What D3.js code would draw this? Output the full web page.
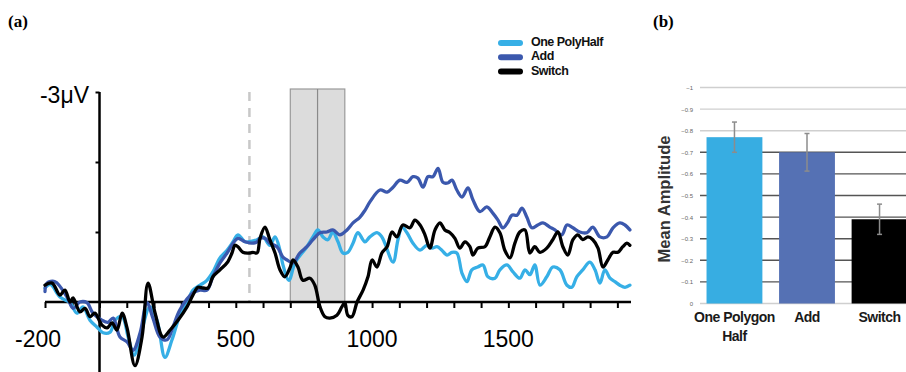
<!DOCTYPE html>
<html><head><meta charset="utf-8">
<script src="https://cdn.jsdelivr.net/npm/d3@7"></script>
<style>html,body{margin:0;padding:0;background:#fff;}svg{display:block;}</style>
</head><body>
<svg id="chart" width="906" height="372"></svg>
<script>
// ---------- Panel (a) data: ERP waveforms [time ms, amplitude µV] ----------
const seriesNames = ["One PolyHalf", "Add", "Switch"];
const seriesColors = ["#36afe6", "#3b58ad", "#000000"];
const onePolyHalf = [[-200,-0.20],[-180,-0.25],[-145,-0.07],[-108,0.01],[-83,0.16],[-61,0.07],[-35,0.26],[-9,0.36],[13,0.44],[39,0.43],[57,0.26],[83,0.21],[105,0.50],[127,0.76],[149,0.50],[185,0.07],[211,0.26],[240,0.79],[266,0.54],[295,0.19],[321,0.01],[343,-0.17],[369,-0.24],[394,-0.31],[416,-0.43],[442,-0.63],[468,-0.74],[490,-0.86],[508,-0.96],[534,-0.86],[559,-0.87],[578,-0.89],[600,-0.93],[625,-0.81],[644,-0.93],[662,-0.74],[673,-0.53],[695,-0.31],[717,-0.56],[743,-0.70],[761,-0.79],[783,-0.93],[801,-1.03],[820,-0.93],[838,-0.89],[856,-1.0],[875,-0.86],[893,-0.70],[911,-0.71],[930,-0.84],[948,-0.99],[974,-0.86],[992,-0.93],[1018,-0.99],[1036,-0.93],[1047,-0.84],[1077,-0.57],[1095,-0.89],[1110,-1.07],[1128,-0.99],[1150,-0.84],[1176,-0.74],[1201,-0.81],[1220,-0.77],[1238,-0.79],[1256,-0.74],[1275,-0.67],[1293,-0.71],[1311,-0.70],[1330,-0.41],[1348,-0.29],[1366,-0.46],[1388,-0.50],[1407,-0.53],[1425,-0.36],[1451,-0.34],[1469,-0.46],[1495,-0.53],[1517,-0.43],[1542,-0.34],[1561,-0.46],[1579,-0.39],[1597,-0.53],[1616,-0.24],[1641,-0.36],[1663,-0.50],[1689,-0.46],[1715,-0.24],[1733,-0.21],[1751,-0.36],[1773,-0.46],[1799,-0.57],[1818,-0.46],[1836,-0.27],[1854,-0.46],[1873,-0.34],[1891,-0.29],[1909,-0.24],[1928,-0.21],[1946,-0.24]];
const addWave = [[-200,-0.15],[-193,-0.27],[-163,-0.29],[-119,-0.07],[-97,0.09],[-72,0],[-46,0.01],[-24,0.16],[9,0.26],[31,0.29],[50,0.23],[75,0.50],[101,0.57],[123,0.69],[149,0.44],[174,0.01],[196,0.23],[222,0.50],[248,0.54],[270,0.35],[295,0.11],[343,-0.13],[369,-0.17],[394,-0.17],[416,-0.36],[442,-0.56],[468,-0.70],[490,-0.84],[508,-0.91],[534,-0.86],[559,-0.84],[578,-0.86],[589,-0.91],[607,-0.91],[625,-0.84],[651,-0.79],[673,-0.64],[688,-0.60],[710,-0.56],[735,-0.70],[761,-0.79],[783,-0.89],[809,-0.99],[834,-1.0],[856,-1.03],[882,-0.96],[908,-1.03],[930,-1.13],[955,-1.21],[974,-1.31],[992,-1.43],[1029,-1.60],[1055,-1.57],[1077,-1.64],[1102,-1.74],[1128,-1.71],[1150,-1.79],[1168,-1.77],[1187,-1.64],[1205,-1.79],[1223,-1.79],[1242,-1.91],[1260,-1.71],[1278,-1.70],[1293,-1.74],[1311,-1.60],[1330,-1.50],[1352,-1.63],[1370,-1.46],[1396,-1.29],[1421,-1.36],[1443,-1.27],[1462,-1.17],[1480,-1.06],[1498,-1.14],[1513,-1.24],[1532,-1.24],[1550,-1.34],[1568,-1.21],[1586,-1.06],[1608,-1.10],[1627,-1.13],[1652,-1.07],[1671,-1.03],[1696,-0.96],[1715,-1.10],[1737,-1.06],[1762,-1.0],[1788,-0.99],[1810,-1.07],[1836,-0.93],[1862,-0.93],[1884,-1.06],[1909,-1.13],[1928,-1.10],[1946,-1.03]];
const switchWave = [[-200,-0.24],[-174,-0.27],[-145,-0.10],[-127,-0.17],[-108,0],[-97,-0.06],[-72,0.14],[-53,0.09],[-35,0.21],[-17,0.16],[9,0.33],[28,0.37],[46,0.30],[64,0.40],[83,0.16],[101,0.37],[130,0.91],[156,0.50],[178,-0.27],[204,0.16],[233,0.50],[259,0.40],[290,0.25],[321,0.07],[343,-0.10],[361,-0.21],[380,-0.20],[398,-0.20],[416,-0.36],[442,-0.46],[468,-0.56],[486,-0.70],[497,-0.81],[508,-0.79],[526,-0.71],[552,-0.70],[563,-0.71],[578,-0.70],[589,-0.91],[607,-1.07],[625,-0.89],[644,-0.70],[662,-0.46],[680,-0.36],[699,-0.49],[710,-0.60],[728,-0.50],[746,-0.31],[772,-0.34],[790,-0.24],[809,0.07],[827,0.21],[845,0.23],[871,0.19],[889,0.07],[900,0.01],[911,0.19],[926,0.21],[945,0],[967,-0.17],[985,-0.36],[1000,-0.60],[1018,-0.50],[1036,-0.70],[1055,-0.79],[1073,-1.0],[1091,-0.93],[1113,-1.10],[1139,-1.06],[1157,-1.17],[1176,-1.10],[1194,-0.96],[1212,-0.77],[1231,-1.03],[1249,-1.13],[1267,-1.03],[1286,-0.99],[1304,-0.91],[1322,-0.77],[1341,-0.86],[1359,-0.79],[1370,-0.67],[1388,-0.77],[1414,-0.79],[1432,-0.93],[1451,-1.07],[1469,-0.99],[1487,-0.74],[1506,-0.63],[1524,-0.84],[1542,-1.0],[1561,-1.03],[1579,-0.70],[1597,-0.79],[1616,-0.71],[1641,-0.77],[1663,-0.89],[1682,-1.0],[1700,-0.79],[1718,-0.67],[1737,-0.89],[1755,-0.96],[1773,-0.89],[1792,-0.93],[1810,-0.89],[1829,-0.77],[1847,-0.50],[1865,-0.60],[1884,-0.71],[1902,-0.71],[1920,-0.79],[1935,-0.84],[1946,-0.81]];
const timeTickLabels = [-200, 500, 1000, 1500];
const ampTickValues = [-3, -2, -1];
const windowStart = 700, windowMid = 800, windowEnd = 900;
const dashedTime = 550;

// ---------- Panel (b) data: bar chart ----------
const barCategories = ["One Polygon Half", "Add", "Switch"];
const barMeans = [-0.77, -0.70, -0.39];
const barErrors = [0.07, 0.087, 0.07];
const barColors = ["#37ade2", "#5571b4", "#000000"];
const barTickValues = [-1, -0.9, -0.8, -0.7, -0.6, -0.5, -0.4, -0.3, -0.2, -0.1, 0];

const svg = d3.select("#chart");

// ================= Panel (a) =================
const x = d3.scaleLinear().domain([-200, 1950]).range([45, 631]);
const y = d3.scaleLinear().domain([-3, 1]).range([92, 372]);
const ga = svg.append("g");

// analysis window box
ga.append("rect").attr("x", x(windowStart)).attr("y", y(-3) - 3)
  .attr("width", x(windowEnd) - x(windowStart)).attr("height", y(0) - y(-3) + 3)
  .attr("fill", "#dcdcdc").attr("stroke", "#9a9a9a").attr("stroke-width", 1.2);
ga.append("line").attr("x1", x(windowMid)).attr("x2", x(windowMid))
  .attr("y1", y(-3) - 3).attr("y2", y(0)).attr("stroke", "#8a8a8a").attr("stroke-width", 1.2);

// dashed line
ga.append("line").attr("x1", x(dashedTime)).attr("x2", x(dashedTime))
  .attr("y1", y(-3)).attr("y2", y(0)).attr("stroke", "#c8c8c8")
  .attr("stroke-width", 2.5).attr("stroke-dasharray", "9,7");

// x axis
const xAxis = d3.axisBottom(x).tickValues(d3.range(-200, 2000, 100)).tickSize(6).tickFormat("");
const gx = ga.append("g").attr("transform", `translate(0,${y(0)})`).call(xAxis);
gx.select(".domain").attr("d", `M${x(-200)},0H${x(1950)}`).attr("stroke", "#000").attr("stroke-width", 2.5);
gx.selectAll(".tick line").attr("stroke", "#000").attr("stroke-width", 2);

// y axis
const yAxis = d3.axisLeft(y).tickValues(ampTickValues).tickSize(4).tickFormat("");
const gy = ga.append("g").attr("transform", `translate(${x(0)},0)`).call(yAxis);
gy.select(".domain").attr("d", `M0,${y(-3)}V${y(1)}`).attr("stroke", "#000").attr("stroke-width", 2.5);
gy.selectAll(".tick line").attr("stroke", "#000").attr("stroke-width", 2);

// waveforms
const line = d3.line().x(d => x(d[0])).y(d => y(d[1])).curve(d3.curveCatmullRom.alpha(0.5));
[onePolyHalf, addWave, switchWave].forEach((s, i) => {
  ga.append("path").datum(s).attr("d", line).attr("fill", "none")
    .attr("stroke", seriesColors[i]).attr("stroke-width", 3.3)
    .attr("stroke-linejoin", "round").attr("stroke-linecap", "round");
});

// axis text
const labFont = "'Liberation Sans', Arial, sans-serif";
ga.append("text").attr("x", 89).attr("y", y(-3) + 5).attr("text-anchor", "end")
  .attr("dominant-baseline", "middle").attr("font-family", labFont).attr("font-size", 23)
  .text("-3μV");
ga.selectAll(".tlab").data(timeTickLabels).enter().append("text")
  .attr("x", d => d === -200 ? x(d) - 7 : x(d)).attr("y", 341)
  .attr("text-anchor", "middle").attr("dominant-baseline", "middle")
  .attr("font-family", labFont).attr("font-size", 23).text(d => d);

// legend
const lg = ga.append("g");
seriesNames.forEach((n, i) => {
  const yy = 43 + i * 14.2;
  lg.append("line").attr("x1", 501).attr("x2", 520).attr("y1", yy).attr("y2", yy)
    .attr("stroke", seriesColors[i]).attr("stroke-width", 6).attr("stroke-linecap", "round");
  lg.append("text").attr("x", 531).attr("y", yy).attr("dominant-baseline", "middle")
    .attr("font-family", labFont).attr("font-weight", "bold").attr("font-size", 12.5)
    .attr("letter-spacing", -0.5).attr("fill", "#111").text(n);
});

// panel labels
svg.append("text").attr("x", 8).attr("y", 27).attr("font-family", "'Liberation Serif', 'Times New Roman', serif")
  .attr("font-weight", "bold").attr("font-size", 17).text("(a)");
svg.append("text").attr("x", 653).attr("y", 27).attr("font-family", "'Liberation Serif', 'Times New Roman', serif")
  .attr("font-weight", "bold").attr("font-size", 17).text("(b)");

// ================= Panel (b) =================
const gb = svg.append("g");
const xb = d3.scaleBand().domain(barCategories).range([700, 914]).paddingInner(0.23).paddingOuter(0.09);
const yb = d3.scaleLinear().domain([-1, 0]).range([87.5, 303.5]);

// gridlines
gb.selectAll(".grid").data(barTickValues).enter().append("line")
  .attr("x1", 700).attr("x2", 906).attr("y1", d => yb(d)).attr("y2", d => yb(d))
  .attr("stroke", d => (d <= -0.75 || d === 0) ? "#cfcfcf" : "#555")
  .attr("stroke-width", 1.4);

// y tick labels
const ybAxis = d3.axisLeft(yb).tickValues(barTickValues).tickSize(0).tickFormat(d => d === 0 ? "0" : d3.format("")(d));
const gyb = gb.append("g").attr("transform", "translate(694,0)").call(ybAxis);
gyb.select(".domain").remove();
gyb.selectAll("text").attr("font-family", labFont).attr("font-size", 6).attr("fill", "#666").attr("x", -1);

// bars
gb.selectAll(".bar").data(barCategories).enter().append("rect")
  .attr("x", d => xb(d)).attr("width", xb.bandwidth())
  .attr("y", (d, i) => yb(barMeans[i])).attr("height", (d, i) => yb(0) - yb(barMeans[i]))
  .attr("fill", (d, i) => barColors[i]);

// error bars
barCategories.forEach((c, i) => {
  const cx = xb(c) + xb.bandwidth() / 2;
  const y1 = yb(barMeans[i] - barErrors[i]), y2 = yb(barMeans[i] + barErrors[i]);
  gb.append("line").attr("x1", cx).attr("x2", cx).attr("y1", y1).attr("y2", y2)
    .attr("stroke", "#8c8c8c").attr("stroke-width", 1.5);
  [y1, y2].forEach(yy => gb.append("line").attr("x1", cx - 2.5).attr("x2", cx + 2.5)
    .attr("y1", yy).attr("y2", yy).attr("stroke", "#8c8c8c").attr("stroke-width", 1.5));
});

// category labels
barCategories.forEach(c => {
  const cx = xb(c) + xb.bandwidth() / 2;
  const t = gb.append("text").attr("x", cx).attr("y", 318).attr("text-anchor", "middle")
    .attr("font-family", labFont).attr("font-weight", "bold").attr("font-size", 14)
    .attr("letter-spacing", -0.5).attr("fill", "#1a1a1a").attr("dominant-baseline", "middle");
  if (c === "One Polygon Half") {
    t.append("tspan").attr("x", cx).text("One Polygon");
    t.append("tspan").attr("x", cx).attr("dy", 19).text("Half");
  } else t.text(c);
});

// y axis title
gb.append("text").attr("transform", "translate(666,199) rotate(-90)")
  .attr("text-anchor", "middle").attr("dominant-baseline", "middle")
  .attr("font-family", labFont).attr("font-weight", "bold").attr("font-size", 16.5)
  .attr("fill", "#333").text("Mean Amplitude");
</script>
</body></html>
